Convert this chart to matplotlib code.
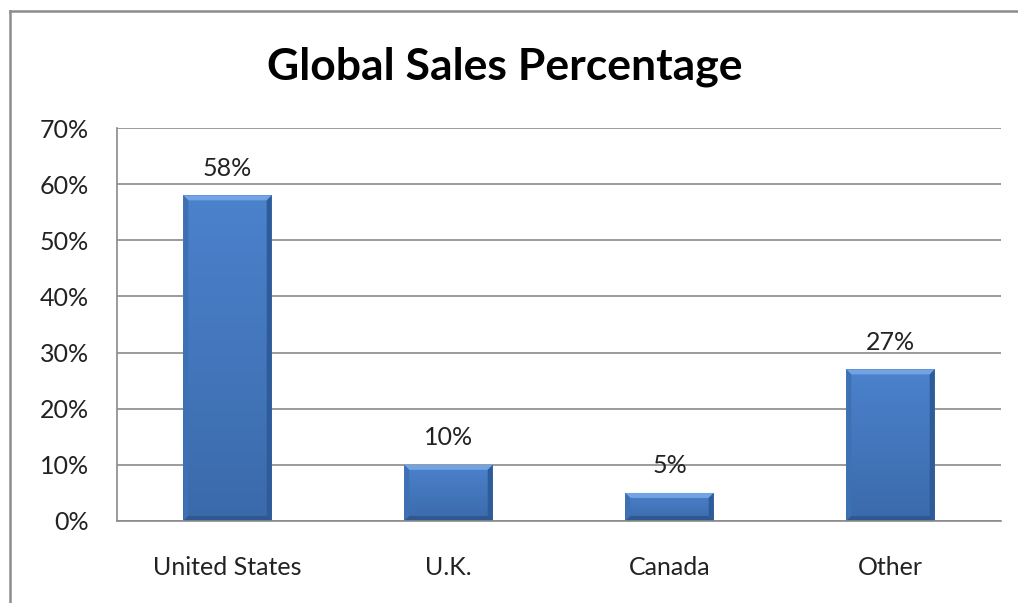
import numpy as np
import matplotlib
matplotlib.use("Agg")
import matplotlib.pyplot as plt
from matplotlib.patches import Polygon
from matplotlib.lines import Line2D

categories = ["United States", "U.K.", "Canada", "Other"]
values = [58, 10, 5, 27]
yticks = [0, 10, 20, 30, 40, 50, 60, 70]
title = "Global Sales Percentage"

FONT = "Lato"
FS = 18
W, H = 1018, 603
fig = plt.figure(figsize=(W / 100, H / 100), dpi=100)
ax = fig.add_axes([117 / W, 1 - 521 / H, (1001 - 117) / W, (521 - 128) / H])

x = np.arange(len(categories))
bw = 0.40
bars = ax.bar(x, values, width=bw, color="#4679c0", zorder=2, linewidth=0)

ax.set_xlim(-0.5, len(categories) - 0.5)
ax.set_ylim(0, 70)
ax.set_yticks(yticks)
ax.set_yticklabels([f"{v}%" for v in yticks], fontsize=FS, family=FONT, color="#222222")
ax.set_xticks(x)
ax.set_xticklabels(categories, fontsize=FS, family=FONT, color="#222222")
ax.tick_params(axis="both", length=0)
ax.tick_params(axis="y", pad=20)
ax.tick_params(axis="x", pad=25)
ax.yaxis.grid(True, color="#8a8a8a", linewidth=1.2, zorder=0)
ax.set_axisbelow(True)
for s in ["top", "right"]:
    ax.spines[s].set_visible(False)
for s in ["left", "bottom"]:
    ax.spines[s].set_color("#8a8a8a")
    ax.spines[s].set_linewidth(1.2)

# pixel -> data scales for bevel
ax_w_px = 1001 - 117
ax_h_px = 521 - 128
px_x = (len(categories)) / ax_w_px
px_y = 70 / ax_h_px
bev = 5

grad = np.linspace(0, 1, 256).reshape(-1, 1)
cmap = matplotlib.colors.LinearSegmentedColormap.from_list("b", ["#3b6aab", "#4b82cc"])
for b, v in zip(bars, values):
    x0, w = b.get_x(), b.get_width()
    x1 = x0 + w
    y0, y1 = 0, v
    im = ax.imshow(grad, extent=[x0, x1, y0, y1], aspect="auto", cmap=cmap, zorder=2.1, origin="lower")
    im.set_clip_path(b)
    bx, by = bev * px_x, bev * px_y
    by = min(by, (y1 - y0) / 2)
    # top bevel
    ax.add_patch(Polygon([(x0, y1), (x1, y1), (x1 - bx, y1 - by), (x0 + bx, y1 - by)],
                         closed=True, color="#72a3e3", lw=0, zorder=2.2))
    # left bevel
    ax.add_patch(Polygon([(x0, y1), (x0 + bx, y1 - by), (x0 + bx, y0 + by), (x0, y0)],
                         closed=True, color="#3e70b4", lw=0, zorder=2.2))
    # right bevel
    ax.add_patch(Polygon([(x1, y1), (x1 - bx, y1 - by), (x1 - bx, y0 + by), (x1, y0)],
                         closed=True, color="#2f5c98", lw=0, zorder=2.2))
    # bottom bevel
    ax.add_patch(Polygon([(x0, y0), (x0 + bx, y0 + by), (x1 - bx, y0 + by), (x1, y0)],
                         closed=True, color="#2d5890", lw=0, zorder=2.2))
    ax.annotate(f"{v}%", (b.get_x() + w / 2, v), xytext=(0, 14), textcoords="offset points",
                ha="center", va="baseline", fontsize=FS, family=FONT, color="#222222")

fig.text(505 / W, 1 - 67 / H, title, ha="center", va="center", fontsize=32,
         fontweight="bold", family=FONT, color="black")

# outer chart border (top & left)
fig.add_artist(Line2D([9.5 / W, 9.5 / W], [0, 1 - 11 / H], color="#8c8c8c", lw=1.8))
fig.add_artist(Line2D([9.5 / W, 1], [1 - 11 / H, 1 - 11 / H], color="#8c8c8c", lw=1.8))

fig.savefig("out.png", dpi=100)
